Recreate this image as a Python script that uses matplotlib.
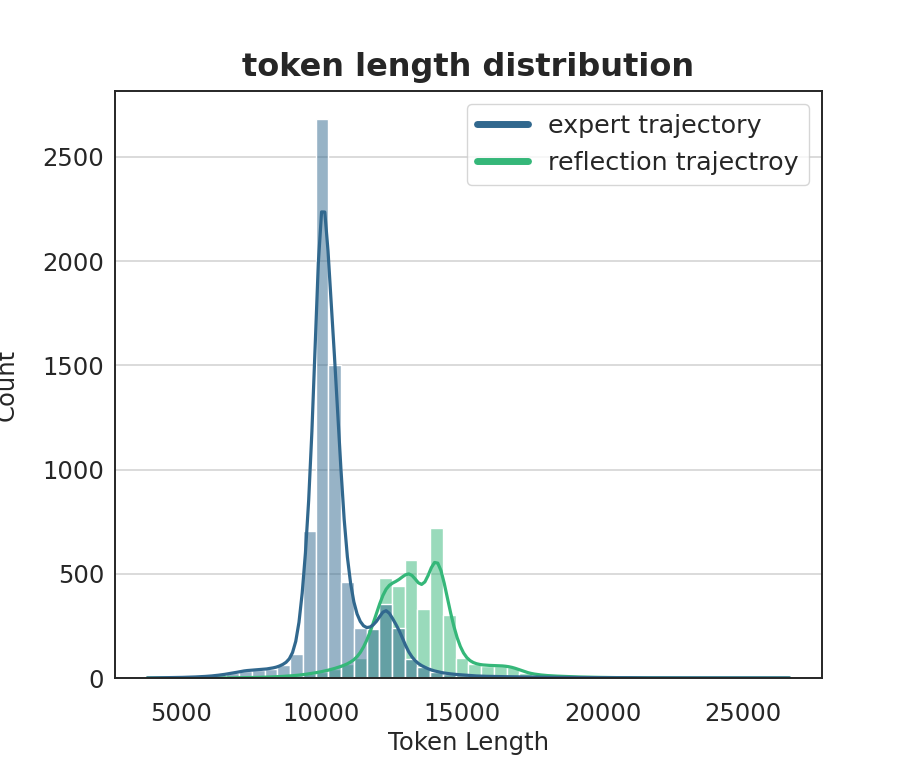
import numpy as np
import pandas as pd
import seaborn as sns
import matplotlib.pyplot as plt
from matplotlib.lines import Line2D

# range of token lengths and number of histogram bins
TOKEN_MIN = 3914
TOKEN_MAX = 26545
N_BINS = 50

labels = ['expert trajectory', 'reflection trajectroy']

# counts per bin
expert_counts = [1, 2, 3, 5, 8, 14, 24, 36, 40, 45,
                 62, 115, 705, 2680, 1500, 460, 240, 235, 355, 238,
                 92, 51, 30, 20, 15, 10, 8, 7, 6, 5,
                 4, 4, 3, 3, 2, 2, 2, 2, 1, 1,
                 1, 1, 1, 1, 1, 1, 1, 1, 1, 1]
reflection_counts = [0, 0, 0, 0, 0, 0, 1, 2, 3, 5,
                     8, 12, 20, 30, 45, 65, 98, 240, 478, 442,
                     564, 333, 720, 300, 95, 65, 60, 60, 55, 25,
                     15, 10, 8, 5, 4, 3, 2, 1, 1, 0,
                     0, 0, 0, 0, 0, 0, 0, 0, 0, 0]

colors = ['#31688e', '#35b779']

edges = np.linspace(TOKEN_MIN, TOKEN_MAX, N_BINS + 1)
centers = (edges[:-1] + edges[1:]) / 2

# one row per sample, at the centre of its bin
df = pd.concat([
    pd.DataFrame({'Token Length': np.repeat(centers, expert_counts), 'source': labels[0]}),
    pd.DataFrame({'Token Length': np.repeat(centers, reflection_counts), 'source': labels[1]}),
], ignore_index=True)

sns.set_theme(style='white')
plt.rcParams['font.family'] = ['DejaVu Sans']

fig = plt.figure(figsize=(9.14, 7.61), dpi=100)
ax = fig.add_axes([0.126, 0.109, 0.773, 0.771])

sns.histplot(data=df, x='Token Length', hue='source', hue_order=labels,
             bins=edges, kde=True, palette=colors, alpha=0.5,
             edgecolor='white', linewidth=1.0,
             kde_kws={'cut': 1, 'bw_adjust': 1.05},
             line_kws={'linewidth': 2.3}, legend=False, ax=ax)

ax.set_axisbelow(True)
ax.grid(axis='y', color='#d4d4d4', linewidth=1.2)
ax.grid(axis='x', visible=False)
for s in ax.spines.values():
    s.set_color('#262626')
    s.set_linewidth(1.4)

ax.set_yticks([0, 500, 1000, 1500, 2000, 2500])
ax.set_xticks([5000, 10000, 15000, 20000, 25000])
ax.tick_params(axis='x', labelsize=17.5, length=0, pad=17, colors='#262626')
ax.tick_params(axis='y', labelsize=17.5, length=0, pad=8, colors='#262626')

ax.set_xlabel('Token Length', fontsize=17.5, color='#262626', labelpad=4)
ax.set_ylabel('Count', fontsize=17.5, color='#262626')
ax.yaxis.set_label_coords(-0.136, 0.5)
ax.set_title('token length distribution', fontsize=23, fontweight='bold',
             color='#262626', pad=11)

handles = [Line2D([0], [0], color=c, lw=5, solid_capstyle='round') for c in colors]
ax.legend(handles, labels, loc='upper right', fontsize=18.3, handlelength=2.0,
          handletextpad=0.8, labelspacing=0.5,
          frameon=True, edgecolor='#cccccc')

fig.savefig('out.png', dpi=100)
